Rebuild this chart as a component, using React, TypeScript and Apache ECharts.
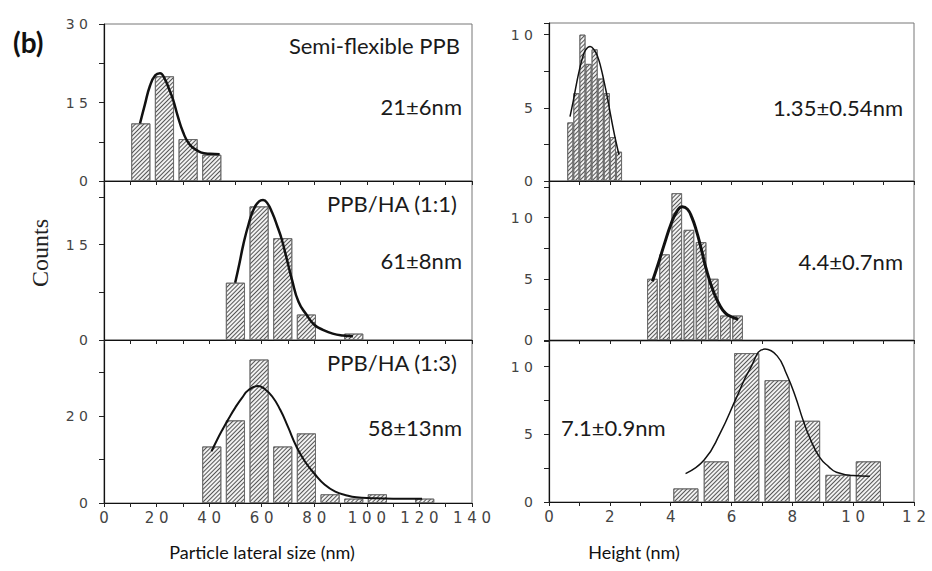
import React, { useEffect, useRef } from 'react';
import * as echarts from 'echarts';

// ---- data ----
const TL_CENTERS = [14, 23, 32, 41];
const TL_COUNTS = [11, 20, 8, 5];
const ML_CENTERS = [50, 59, 68, 77, 95];
const ML_COUNTS = [9, 21, 16, 4, 1];
const BL_CENTERS = [41, 50, 59, 68, 77, 86, 95, 104, 122];
const BL_COUNTS = [13, 19, 33, 13, 16, 2, 1, 2, 1];
const TR_CENTERS = [0.7, 0.9, 1.1, 1.3, 1.5, 1.7, 1.9, 2.1, 2.3];
const TR_COUNTS = [4, 6, 10, 8, 9, 7, 6, 3, 2];
const MR_CENTERS = [3.4, 3.8, 4.2, 4.6, 5.0, 5.4, 5.8, 6.2];
const MR_COUNTS = [5, 7, 12, 9, 8, 5, 2, 2];
const BR_CENTERS = [4.5, 5.5, 6.5, 7.5, 8.5, 9.5, 10.5];
const BR_COUNTS = [1, 3, 11, 9, 6, 2, 3];

const TL_FIT = [[13.7, 11], [15.5, 14.5], [17.5, 18.2], [19.5, 20.2], [21.3, 20.6], [23, 19.6], [24.8, 17.5], [26.3, 15.5], [28, 12.5], [30.1, 9.3], [32.5, 7.0], [35.2, 5.9], [38, 5.3], [40.3, 5.2], [44, 5.1]];
const ML_FIT = [[49.9, 9.0], [51.5, 12], [53, 15], [55, 18.2], [57, 20.6], [59, 21.8], [60.5, 22.0], [62, 21.6], [64, 20], [66, 17.8], [67.5, 16], [69.5, 12.8], [71.5, 9.5], [74, 6], [77, 4], [80, 2.4], [83.3, 1.6], [87, 1.0], [90.9, 0.7], [94.7, 0.6]];
const BL_FIT = [[40.9, 11.9], [43, 14.5], [45, 16.8], [47.5, 19.5], [50, 22], [52.5, 24.2], [55, 26], [58.6, 26.9], [61, 26.3], [64, 24.5], [67, 21.5], [70, 17.5], [73.2, 13], [76.5, 9.5], [80.4, 6.5], [84, 4.2], [88, 2.6], [92, 1.8], [96, 1.3], [102, 1.1], [110, 1.0], [121, 1.0]];
const TR_FIT = [[0.69, 4.4], [0.8, 5.5], [0.9, 6.6], [1.0, 7.6], [1.1, 8.4], [1.2, 8.95], [1.35, 9.2], [1.5, 8.9], [1.6, 8.5], [1.7, 7.8], [1.8, 6.9], [1.9, 5.9], [2.0, 4.8], [2.1, 3.7], [2.2, 2.7], [2.3, 1.8]];
const MR_FIT = [[3.4, 4.8], [3.6, 6.3], [3.8, 7.9], [4.0, 9.4], [4.2, 10.5], [4.38, 10.9], [4.55, 10.7], [4.7, 10.0], [4.85, 8.9], [5.0, 7.5], [5.18, 5.7], [5.4, 4.0], [5.6, 2.9], [5.8, 2.2], [6.0, 1.9], [6.22, 1.7]];
const BR_FIT = [[4.49, 2.1], [5.1, 3.1], [5.62, 5.05], [6.17, 7.75], [6.6, 9.8], [7.1, 11.3], [7.5, 10.8], [7.81, 9.46], [8.1, 7.8], [8.36, 6.0], [8.6, 4.6], [8.9, 3.3], [9.2, 2.6], [9.45, 2.2], [10.0, 1.95], [10.55, 1.9]];

const LEFT_X_LABELS = [0, 20, 40, 60, 80, 100, 120, 140];
const RIGHT_X_LABELS = [0, 2, 4, 6, 8, 10, 12];
const TL_Y_LABELS = [0, 15, 30];
const ML_Y_LABELS = [0, 15];
const BL_Y_LABELS = [0, 20];
const R_Y_LABELS = [0, 5, 10];

const ANNOTATIONS_LEFT = ['Semi-flexible PPB', '21±6nm', 'PPB/HA (1:1)', '61±8nm', 'PPB/HA (1:3)', '58±13nm'];
const ANNOTATIONS_RIGHT = ['1.35±0.54nm', '4.4±0.7nm', '7.1±0.9nm'];
const X_TITLES = ['Particle lateral size (nm)', 'Height (nm)'];
const Y_TITLE = 'Counts';
const PANEL_TAG = '(b)';

const spaced = (v: number) => String(v).split('').join(' ');
const inList = (list: number[]) => (v: number) =>
  list.some((l) => Math.abs(l - v) < 1e-6) ? spaced(v) : '';

export default function App() {
  const ref = useRef<HTMLDivElement>(null);
  useEffect(() => {
    if (!ref.current) return;
    const chart = echarts.init(ref.current, undefined, { renderer: 'svg' });

    const panels = [
      { grid: { left: 104, top: 24, width: 368, height: 157 }, xMax: 140, xInt: 10, xLabels: LEFT_X_LABELS, showX: false, yMax: 30, yInt: 7.5, yLabels: TL_Y_LABELS, c: TL_CENTERS, v: TL_COUNTS, fit: TL_FIT, bw: 19, lw: 2.5 },
      { grid: { left: 104, top: 181, width: 368, height: 159 }, xMax: 140, xInt: 10, xLabels: LEFT_X_LABELS, showX: false, yMax: 25, yInt: 7.5, yLabels: ML_Y_LABELS, c: ML_CENTERS, v: ML_COUNTS, fit: ML_FIT, bw: 19, lw: 2.5 },
      { grid: { left: 104, top: 340, width: 368, height: 163 }, xMax: 140, xInt: 10, xLabels: LEFT_X_LABELS, showX: true, yMax: 37.5, yInt: 10, yLabels: BL_Y_LABELS, c: BL_CENTERS, v: BL_COUNTS, fit: BL_FIT, bw: 19, lw: 2 },
      { grid: { left: 549, top: 23, width: 365, height: 158 }, xMax: 12, xInt: 1, xLabels: RIGHT_X_LABELS, showX: false, yMax: 10.8, yInt: 2.5, yLabels: R_Y_LABELS, c: TR_CENTERS, v: TR_COUNTS, fit: TR_FIT, bw: 6, lw: 1.5 },
      { grid: { left: 549, top: 181, width: 365, height: 159 }, xMax: 12, xInt: 1, xLabels: RIGHT_X_LABELS, showX: false, yMax: 13, yInt: 2.5, yLabels: R_Y_LABELS, c: MR_CENTERS, v: MR_COUNTS, fit: MR_FIT, bw: 10.5, lw: 3 },
      { grid: { left: 549, top: 341, width: 365, height: 161 }, xMax: 12, xInt: 1, xLabels: RIGHT_X_LABELS, showX: true, yMax: 11.9, yInt: 2.5, yLabels: R_Y_LABELS, c: BR_CENTERS, v: BR_COUNTS, fit: BR_FIT, bw: 25, lw: 1.5 },
    ];

    const tickFont = { fontFamily: 'DejaVu Sans', fontSize: 14, color: '#444' };

    const grid = panels.map((p) => ({ ...p.grid, show: true, borderColor: '#777', borderWidth: 1, backgroundColor: 'transparent' }));
    const xAxis = panels.map((p, i) => ({
      type: 'value', gridIndex: i, min: 0, max: p.xMax, interval: p.xInt,
      axisLine: { show: true, lineStyle: { color: '#111', width: 1.2 } },
      axisTick: { show: true, length: 4, lineStyle: { color: '#222' } },
      splitLine: { show: false },
      axisLabel: { show: p.showX, margin: 7, formatter: inList(p.xLabels), ...tickFont, fontSize: 15 },
    }));
    const yAxis = panels.map((p, i) => ({
      type: 'value', gridIndex: i, min: 0, max: p.yMax, interval: p.yInt,
      axisLine: { show: true, lineStyle: { color: '#111', width: 1.2 } },
      axisTick: { show: true, length: 5, lineStyle: { color: '#222' } },
      splitLine: { show: false },
      axisLabel: { show: true, margin: 16, formatter: inList(p.yLabels), ...tickFont },
    }));
    const series: any[] = [];
    panels.forEach((p, i) => {
      series.push({
        type: 'bar', xAxisIndex: i, yAxisIndex: i, barWidth: p.bw,
        data: p.c.map((c, k) => [c, p.v[k]]),
        itemStyle: {
          color: '#f2f2f2', borderColor: '#666', borderWidth: 0.8,
          decal: { symbol: 'rect', symbolSize: 1, dashArrayX: [1, 0], dashArrayY: [1, 2], rotation: -Math.PI / 4, color: '#555' },
        },
        z: 2,
      });
      series.push({
        type: 'line', xAxisIndex: i, yAxisIndex: i, data: p.fit, smooth: true,
        showSymbol: false, symbol: 'none', lineStyle: { color: '#111', width: p.lw }, z: 3,
      });
    });

    const annFont = { fontFamily: 'Lato', fontSize: 22, fill: '#1a1a1a' };
    const t = (text: string, x: number, y: number, align: string, extra: any = {}) => ({
      type: 'text', x, y, style: { text, textAlign: align, textVerticalAlign: 'middle', ...annFont, ...extra },
    });

    const graphic = [
      t(PANEL_TAG, 13, 42, 'left', { fontSize: 28, fontWeight: 'bold', fill: '#111' }),
      t(ANNOTATIONS_LEFT[0], 460, 45, 'right'),
      t(ANNOTATIONS_LEFT[1], 462, 106, 'right'),
      t(ANNOTATIONS_LEFT[2], 457, 203, 'right'),
      t(ANNOTATIONS_LEFT[3], 462, 260, 'right'),
      t(ANNOTATIONS_LEFT[4], 457, 362, 'right'),
      t(ANNOTATIONS_LEFT[5], 462, 427, 'right'),
      t(ANNOTATIONS_RIGHT[0], 903, 107, 'right'),
      t(ANNOTATIONS_RIGHT[1], 903, 261, 'right'),
      t(ANNOTATIONS_RIGHT[2], 561, 427, 'left'),
      t(X_TITLES[0], 262, 552, 'center', { fontSize: 18, fill: '#111' }),
      t(X_TITLES[1], 634, 552, 'center', { fontSize: 18, fill: '#111' }),
      {
        type: 'text', x: 40, y: 253, rotation: Math.PI / 2,
        style: { text: Y_TITLE, textAlign: 'center', textVerticalAlign: 'middle', fontFamily: 'Liberation Serif', fontSize: 24, fill: '#222' },
      },
    ];

    chart.setOption({ animation: false, backgroundColor: '#fff', grid, xAxis, yAxis, series, graphic });
    return () => chart.dispose();
  }, []);
  return <div ref={ref} style={{ position: 'fixed', left: 0, top: 0, width: 932, height: 571 }} />;
}
